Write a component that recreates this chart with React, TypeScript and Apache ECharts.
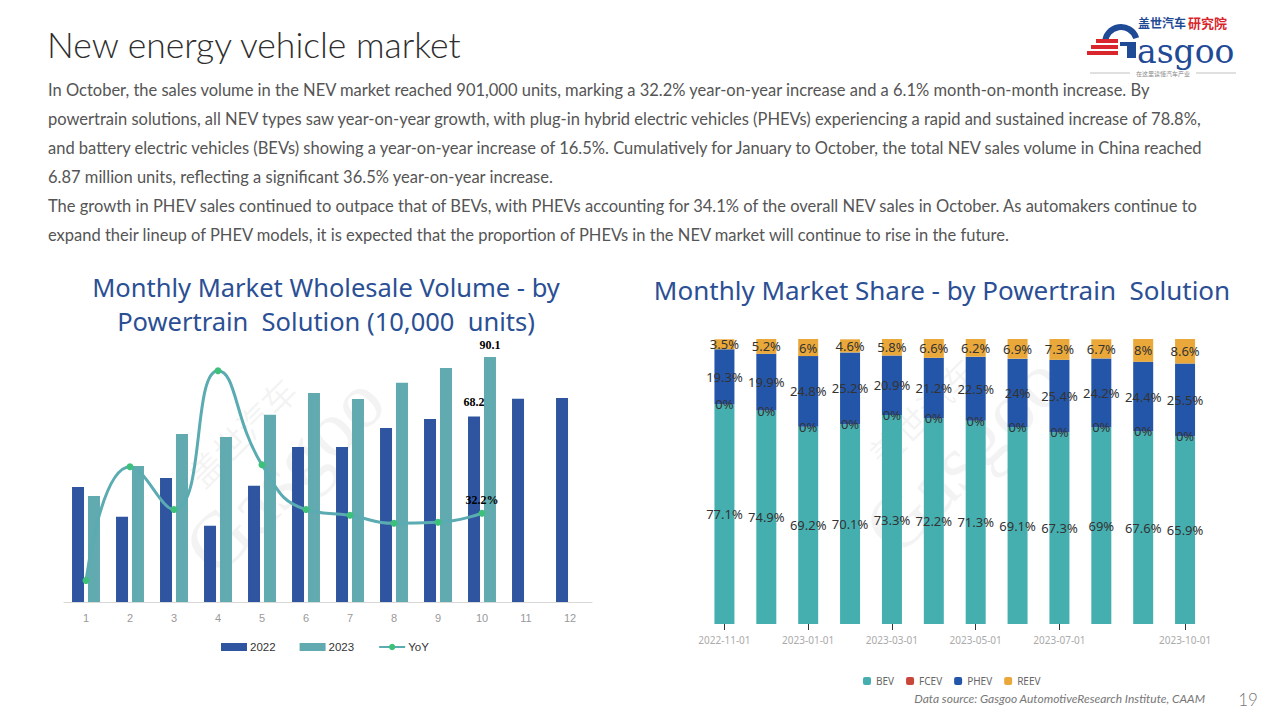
import React, { useEffect, useRef } from "react";
import * as echarts from "echarts";

const months = ["1", "2", "3", "4", "5", "6", "7", "8", "9", "10", "11", "12"];
const vol2022 = [42.3, 31.3, 45.6, 28.0, 42.7, 57.0, 57.0, 64.0, 67.3, 68.2, 74.7, 75.0];
const vol2023 = [39.0, 50.0, 61.8, 60.7, 68.8, 76.8, 74.6, 80.6, 86.0, 90.1];
const yoy = [-7.3, 59.6, 34.4, 116.0, 60.7, 34.4, 31.0, 26.3, 26.9, 32.2];

const shareDates = [
  "2022-11-01", "2022-12-01", "2023-01-01", "2023-02-01", "2023-03-01", "2023-04-01",
  "2023-05-01", "2023-06-01", "2023-07-01", "2023-08-01", "2023-09-01", "2023-10-01",
];
const bev = [77.1, 74.9, 69.2, 70.1, 73.3, 72.2, 71.3, 69.1, 67.3, 69, 67.6, 65.9];
const fcev = [0, 0, 0, 0, 0, 0, 0, 0, 0, 0, 0, 0];
const phev = [19.3, 19.9, 24.8, 25.2, 20.9, 21.2, 22.5, 24, 25.4, 24.2, 24.4, 25.5];
const reev = [3.5, 5.2, 6, 4.6, 5.8, 6.6, 6.2, 6.9, 7.3, 6.7, 8, 8.6];
const shownDateIdx = [0, 2, 4, 6, 8, 11];

const pageTitle = "New energy vehicle market";
const paragraph = [
  "In October, the sales volume in the NEV market reached 901,000 units, marking a 32.2% year-on-year increase and a 6.1% month-on-month increase. By",
  "powertrain solutions, all NEV types saw year-on-year growth, with plug-in hybrid electric vehicles (PHEVs) experiencing a rapid and sustained increase of 78.8%,",
  "and battery electric vehicles (BEVs) showing a year-on-year increase of 16.5%. Cumulatively for January to October, the total NEV sales volume in China reached",
  "6.87 million units, reflecting a significant 36.5% year-on-year increase.",
  "The growth in PHEV sales continued to outpace that of BEVs, with PHEVs accounting for 34.1% of the overall NEV sales in October. As automakers continue to",
  "expand their lineup of PHEV models, it is expected that the proportion of PHEVs in the NEV market will continue to rise in the future.",
];
const leftTitle = ["Monthly Market Wholesale Volume - by", "Powertrain  Solution (10,000  units)"];
const rightTitle = "Monthly Market Share - by Powertrain  Solution";
const footer = "Data source: Gasgoo AutomotiveResearch Institute, CAAM";
const pageNo = "19";

const C2022 = "#2f54a0";
const C2023 = "#61aab0";
const CBEV = "#45afb0";
const CFCEV = "#c9463a";
const CPHEV = "#2356a8";
const CREEV = "#eaa83a";
const TITLE_BLUE = "#2b4f94";
const LOGO_BLUE = "#1f4a96";
const LOGO_RED = "#d8262c";

export default function App() {
  const ref = useRef<HTMLDivElement>(null);
  useEffect(() => {
    if (!ref.current) return;
    const chart = echarts.init(ref.current, null, { renderer: "svg" });

    const graphics: any[] = [];
    graphics.push({
      type: "text", x: 47, y: 44,
      style: { text: pageTitle, fontSize: 35.5, fontFamily: "Lato", fontWeight: 300, fill: "#2e2e2e", verticalAlign: "middle" },
    });
    paragraph.forEach((line, i) => {
      graphics.push({
        type: "text", x: 48, y: 90 + i * 29,
        style: { text: line, fontSize: 16.5, fontFamily: "Lato", fill: "#555", verticalAlign: "middle", lineHeight: 20 },
      });
    });
    leftTitle.forEach((line, i) => {
      graphics.push({
        type: "text", x: 326, y: 287 + i * 33.5,
        style: { text: line, fontSize: 25.5, lineHeight: 26, fontFamily: "Noto Sans", fill: TITLE_BLUE, align: "center", verticalAlign: "middle" },
      });
    });
    graphics.push({
      type: "text", x: 942, y: 290,
      style: { text: rightTitle, fontSize: 26, lineHeight: 26, fontFamily: "Noto Sans", fill: TITLE_BLUE, align: "center", verticalAlign: "middle" },
    });
    graphics.push({
      type: "text", x: 1205, y: 698,
      style: { text: footer, fontSize: 12, fontStyle: "italic", fontFamily: "Lato", fill: "#777", align: "right", verticalAlign: "middle" },
    });
    graphics.push({
      type: "text", x: 1248, y: 699,
      style: { text: pageNo, fontSize: 17, fontFamily: "Lato", fontWeight: 300, fill: "#777", align: "center", verticalAlign: "middle" },
    });
    // watermarks
    [
      { x: 270, y: 460 },
      { x: 950, y: 440 },
    ].forEach((p) => {
      graphics.push({
        type: "group", x: p.x, y: p.y, rotation: Math.PI / 4,
        children: [
          { type: "text", x: 0, y: -40, style: { text: "盖世汽车", fontSize: 34, fontFamily: "Noto Sans CJK SC", fill: "rgba(160,160,160,0.12)", align: "center", verticalAlign: "middle" } },
          { type: "text", x: 0, y: 20, style: { text: "Gasgoo", fontSize: 80, fontFamily: "Liberation Serif", fill: "rgba(160,160,160,0.12)", align: "center", verticalAlign: "middle" } },
        ],
      });
    });
    // logo
    graphics.push(
      { type: "text", x: 1138, y: 22, style: { text: "盖世汽车", fontSize: 12, lineHeight: 13, fontWeight: "bold", fontFamily: "Noto Sans CJK SC", fill: LOGO_BLUE, verticalAlign: "middle" } },
      { type: "text", x: 1188, y: 22, style: { text: "研究院", fontSize: 13, lineHeight: 13, fontWeight: "bold", fontFamily: "Noto Sans CJK SC", fill: LOGO_RED, verticalAlign: "middle" } },
      { type: "arc", shape: { cx: 1121, cy: 43, r: 16, startAngle: Math.PI * 1.0, endAngle: Math.PI * 1.9, clockwise: true }, style: { stroke: LOGO_BLUE, lineWidth: 6, fill: "none" } },
      { type: "rect", shape: { x: 1127, y: 42, width: 9, height: 16 }, style: { fill: LOGO_BLUE } },
      { type: "rect", shape: { x: 1120, y: 42, width: 16, height: 4 }, style: { fill: LOGO_BLUE } },
      { type: "rect", shape: { x: 1096, y: 39, width: 22, height: 4 }, style: { fill: LOGO_RED } },
      { type: "rect", shape: { x: 1091, y: 45, width: 27, height: 4 }, style: { fill: LOGO_RED } },
      { type: "rect", shape: { x: 1087, y: 51, width: 31, height: 4 }, style: { fill: LOGO_RED } },
      { type: "text", x: 1137, y: 51, style: { text: "asgoo", fontSize: 33, lineHeight: 28, fontFamily: "DejaVu Serif", fill: LOGO_BLUE, verticalAlign: "middle" } },
      { type: "line", shape: { x1: 1090, y1: 73, x2: 1130, y2: 73 }, style: { stroke: "#999", lineWidth: 0.6 } },
      { type: "line", shape: { x1: 1196, y1: 73, x2: 1236, y2: 73 }, style: { stroke: "#999", lineWidth: 0.6 } },
      { type: "text", x: 1163, y: 73, style: { text: "在这里读懂汽车产业", fontSize: 6, fontFamily: "Noto Sans CJK SC", fill: "#888", align: "center", verticalAlign: "middle" } },
    );

    const labelTop = (v: number) => ({
      show: true, position: "top", distance: 6, color: "#000", fontSize: 12, lineHeight: 12, fontWeight: "bold",
      fontFamily: "Liberation Serif", formatter: String(v),
    });

    const option: any = {
      animation: false,
      backgroundColor: "#fff",
      graphic: graphics,
      legend: [
        {
          left: 216, top: 636, itemWidth: 26, itemHeight: 8, itemGap: 24,
          data: [
            { name: "2022", icon: "rect" },
            { name: "2023", icon: "rect" },
            { name: "YoY" },
          ],
          textStyle: { color: "#333", fontSize: 11.5, fontFamily: "Liberation Sans", padding: [0, 0, 0, -2] },
        },
        {
          left: 858, top: 671, itemWidth: 8, itemHeight: 8, itemGap: 12, icon: "roundRect",
          data: ["BEV", "FCEV", "PHEV", "REEV"],
          textStyle: { color: "#666", fontSize: 10, fontFamily: "Noto Sans" },
        },
      ],
      grid: [
        { left: 64, width: 528, top: 330, height: 272 },
        { left: 703.5, width: 502.5, top: 339, height: 285 },
      ],
      xAxis: [
        {
          type: "category", gridIndex: 0, data: months,
          axisLine: { lineStyle: { color: "#d9d9d9" } },
          axisTick: { show: false },
          axisLabel: { color: "#999", fontSize: 11, margin: 10, fontFamily: "Liberation Sans" },
        },
        {
          type: "category", gridIndex: 1, data: shareDates,
          axisLine: { show: false },
          axisTick: {
            show: true, alignWithLabel: true, length: 6, lineStyle: { color: "#333" },
            interval: (i: number) => shownDateIdx.includes(i),
          },
          axisLabel: {
            color: "#aaa", fontSize: 10, margin: 11, fontFamily: "Noto Sans",
            interval: (i: number) => shownDateIdx.includes(i),
          },
        },
      ],
      yAxis: [
        { type: "value", gridIndex: 0, min: 0, max: 100, show: false, splitLine: { show: false } },
        { type: "value", gridIndex: 0, min: -20, max: 140, show: false, splitLine: { show: false } },
        { type: "value", gridIndex: 1, min: 0, max: 100, show: false, splitLine: { show: false } },
      ],
      series: [
        {
          name: "2022", type: "bar", xAxisIndex: 0, yAxisIndex: 0, barWidth: 12, barGap: "33%",
          itemStyle: { color: C2022 },
          data: vol2022.map((v, i) => (i === 9 ? { value: v, label: { ...labelTop(v), distance: 8 } } : v)),
        },
        {
          name: "2023", type: "bar", xAxisIndex: 0, yAxisIndex: 0, barWidth: 12, barGap: "33%",
          itemStyle: { color: C2023 },
          data: vol2023.map((v, i) => (i === 9 ? { value: v, label: labelTop(v) } : v)),
        },
        {
          name: "YoY", type: "line", xAxisIndex: 0, yAxisIndex: 1, smooth: true,
          symbol: "circle", symbolSize: 7,
          lineStyle: { color: "#5aabb2", width: 3 },
          itemStyle: { color: "#3cc07a" },
          data: yoy.map((v, i) =>
            i === 9
              ? { value: v, label: { show: true, position: "top", distance: 4, color: "#000", fontSize: 12, fontWeight: "bold", fontFamily: "Liberation Serif", formatter: v + "%" } }
              : v
          ),
          z: 5,
        },
        ...[
          { name: "BEV", data: bev, color: CBEV },
          { name: "FCEV", data: fcev, color: CFCEV },
          { name: "PHEV", data: phev, color: CPHEV },
          { name: "REEV", data: reev, color: CREEV },
        ].map((s) => ({
          name: s.name, type: "bar", stack: "share", xAxisIndex: 1, yAxisIndex: 2, barWidth: 20,
          itemStyle: { color: s.color },
          label: {
            show: true, position: "inside", color: "#333", fontSize: 13, fontFamily: "Noto Sans",
            formatter: "{c}%",
          },
          data: s.data,
        })),
      ],
    };
    chart.setOption(option);
    return () => chart.dispose();
  }, []);
  return <div ref={ref} style={{ position: "fixed", left: 0, top: 0, width: 1280, height: 720 }} />;
}
